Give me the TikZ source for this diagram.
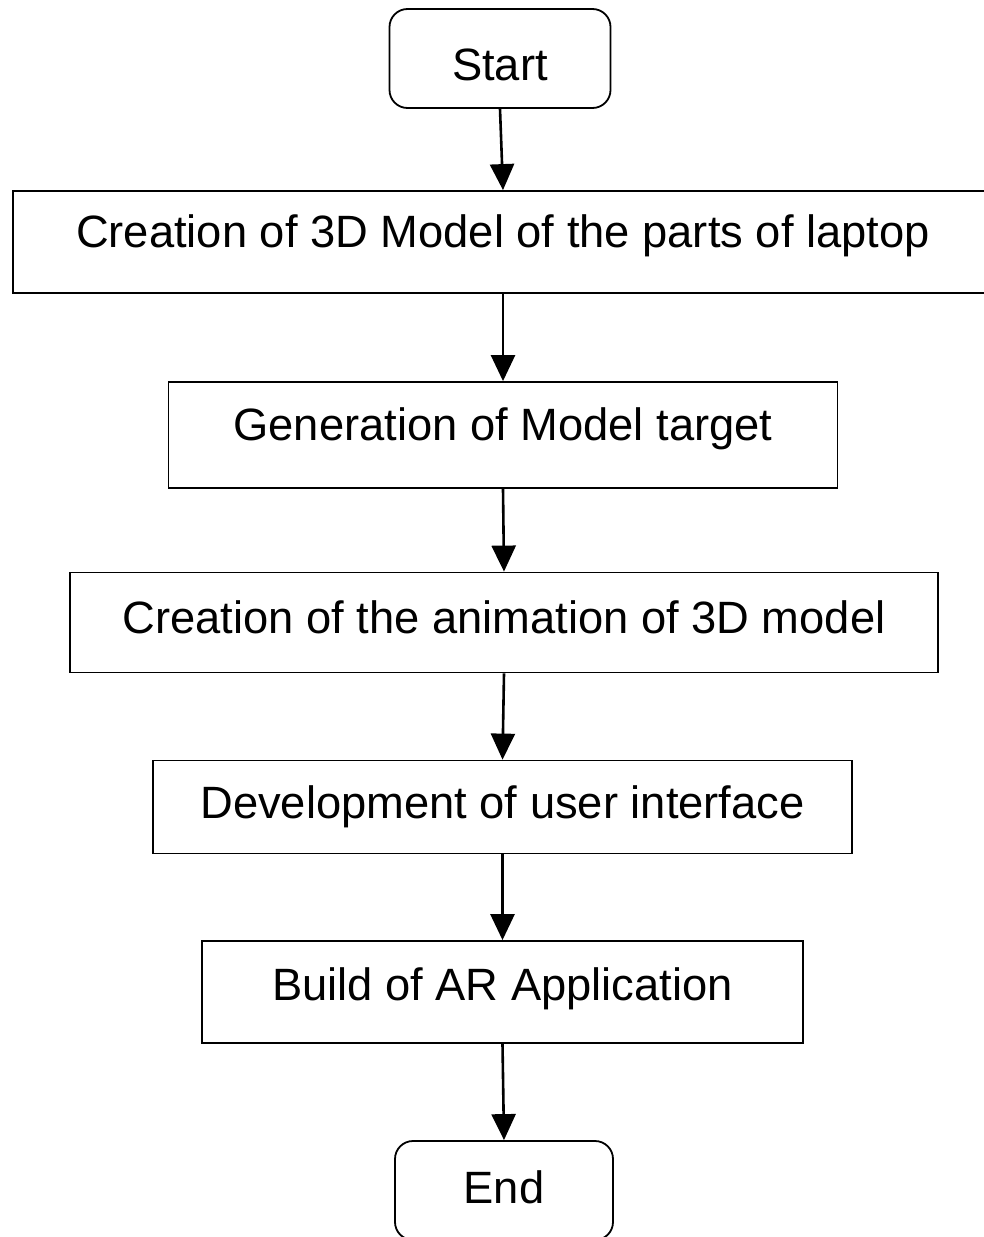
\documentclass[tikz,border=0pt]{standalone}
\usepackage{fontspec}
\setmainfont{Liberation Sans}
\usetikzlibrary{arrows.meta}
\tikzset{
  stepbox/.style={draw=black, line width=1.8pt, fill=white, inner sep=0pt, text depth=0pt, font=\fontsize{45.3}{50}\selectfont},
  termbox/.style={stepbox, rounded corners=18pt},
  arr/.style={line width=2.6pt, -{Triangle[width=24pt,length=26pt]}}
}
\begin{document}
\begin{tikzpicture}[x=1pt,y=-1pt]
\useasboundingbox (0,0) rectangle (984,1237);
\node[termbox, minimum width=221pt, minimum height=99pt, text height=43pt] (start) at (500,58.5) {Start};
\node[stepbox, minimum width=980pt, minimum height=102pt, text height=10pt] (b1) at (503,242) {Creation of 3D Model of the parts of laptop};
\node[stepbox, minimum width=669pt, minimum height=106pt, text height=10pt] (b2) at (503,435) {Generation of Model target};
\node[stepbox, minimum width=868pt, minimum height=100pt, text height=21pt] (b3) at (504,622.5) {Creation of the animation of 3D model};
\node[stepbox, minimum width=699pt, minimum height=93pt, text height=22pt] (b4) at (502.5,807) {Development of user interface};
\node[stepbox, minimum width=601pt, minimum height=102pt, text height=16pt] (b5) at (502.5,992) {Build of AR Application};
\node[termbox, minimum width=218pt, minimum height=99pt, text height=25pt] (end) at (504,1190.5) {End};
\draw[arr] (start.south) -- (b1.north);
\draw[arr] (b1.south) -- (b2.north);
\draw[arr] (b2.south) -- (b3.north);
\draw[arr] (b3.south) -- (b4.north);
\draw[arr] (b4.south) -- (b5.north);
\draw[arr] (b5.south) -- (end.north);
\end{tikzpicture}
\end{document}
